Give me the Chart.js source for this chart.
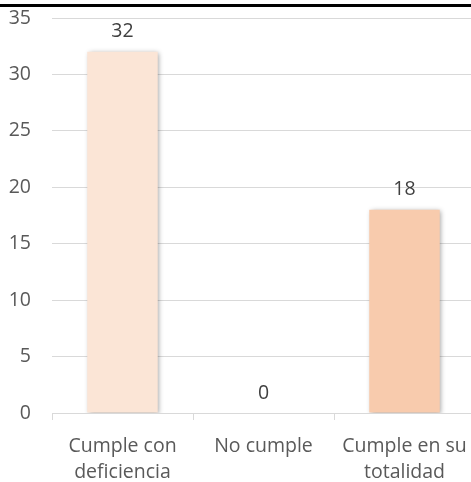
<!DOCTYPE html>
<html>
<head>
<meta charset="utf-8">
<script src="https://cdn.jsdelivr.net/npm/chart.js@4/dist/chart.umd.min.js"></script>
<style>
  html, body { margin: 0; padding: 0; background: #fff; overflow: hidden; }
  #wrap { position: relative; width: 471px; height: 482px; overflow: hidden; }
  #topRule { position: absolute; left: 0; top: 4px; width: 471px; height: 3px; background: #000; z-index: 2; }
  #cv { position: absolute; left: 0; top: 0; }
</style>
</head>
<body>
<div id="wrap">
  <div id="topRule"></div>
  <canvas id="cv" width="476" height="482" style="width:476px;height:482px"></canvas>
</div>
<script>
const categories = [["Cumple con", "deficiencia"], ["No cumple"], ["Cumple en su", "totalidad"]];
const values = [32, 0, 18];
const barColors = ["#FBE5D6", "#FBE5D6", "#F8CBAD"];
const yTicks = [0, 5, 10, 15, 20, 25, 30, 35];

const FONT = "'Open Sans', sans-serif";
const FONT_SIZE = 19.5;

// Soft drop shadow behind the bars
const barShadow = {
  id: 'barShadow',
  beforeDatasetsDraw(chart) {
    const ctx = chart.ctx;
    ctx.save();
    ctx.shadowColor = 'rgba(0,0,0,0.38)';
    ctx.shadowBlur = 5;
    ctx.shadowOffsetX = 1.5;
    ctx.shadowOffsetY = 1.5;
  },
  afterDatasetsDraw(chart) {
    chart.ctx.restore();
  }
};

// Value labels above each bar
const valueLabels = {
  id: 'valueLabels',
  afterDatasetsDraw(chart) {
    const ctx = chart.ctx;
    const meta = chart.getDatasetMeta(0);
    ctx.save();
    ctx.font = FONT_SIZE + "px " + FONT;
    ctx.fillStyle = '#404040';
    ctx.textAlign = 'center';
    ctx.textBaseline = 'middle';
    meta.data.forEach((bar, i) => {
      ctx.fillText(String(values[i]), bar.x, bar.y - 20);
    });
    ctx.restore();
  }
};

new Chart(document.getElementById('cv'), {
  type: 'bar',
  data: {
    labels: categories,
    datasets: [{
      data: values,
      backgroundColor: barColors,
      borderWidth: 0,
      barPercentage: 0.5,
      categoryPercentage: 1.0
    }]
  },
  options: {
    responsive: false,
    animation: false,
    layout: { padding: { top: 18, right: 1, bottom: 0, left: 0 } },
    plugins: {
      legend: { display: false },
      tooltip: { enabled: false }
    },
    scales: {
      x: {
        grid: {
          display: true,
          drawOnChartArea: false,
          drawTicks: true,
          tickLength: 7,
          color: '#d9d9d9',
          offset: true
        },
        border: { display: true, color: '#d9d9d9', width: 1 },
        ticks: {
          color: '#595959',
          font: { family: FONT, size: FONT_SIZE, lineHeight: 1.3 },
          padding: 14,
          maxRotation: 0,
          autoSkip: false
        },
        afterFit(scale) {
          scale.height = 69;
          scale.paddingLeft = 0;
          scale.paddingRight = 0;
        }
      },
      y: {
        min: 0,
        max: 35,
        afterBuildTicks(scale) { scale.ticks = yTicks.map(v => ({ value: v })); },
        grid: { color: '#d9d9d9', drawTicks: false, lineWidth: 1 },
        border: { display: false },
        ticks: {
          color: '#595959',
          font: { family: FONT, size: FONT_SIZE },
          padding: 21
        },
        afterFit(scale) {
          scale.width = 52;
          scale.paddingTop = 0;
          scale.paddingBottom = 0;
        }
      }
    }
  },
  plugins: [barShadow, valueLabels]
});
</script>
</body>
</html>
